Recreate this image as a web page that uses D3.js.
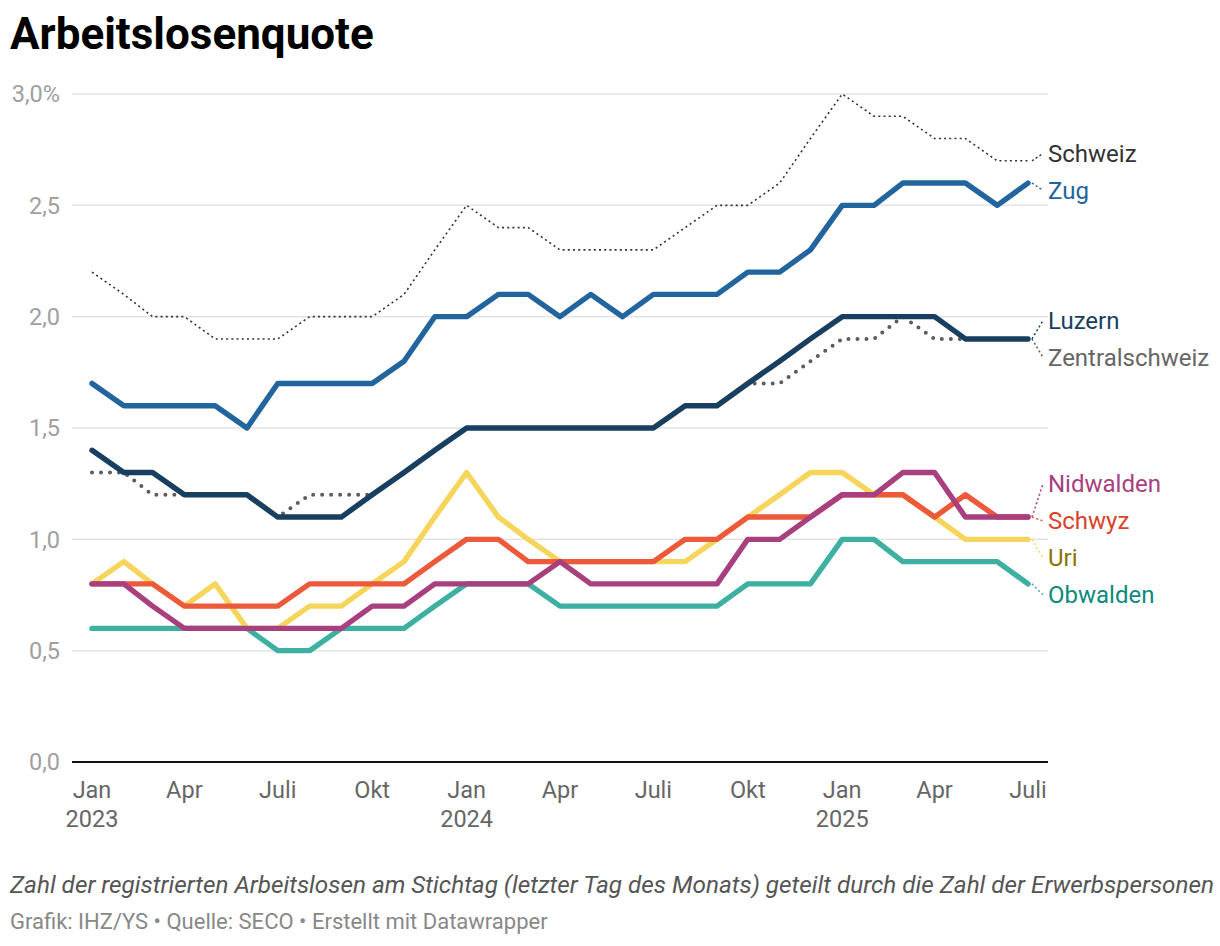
<!DOCTYPE html>
<html>
<head>
<meta charset="utf-8">
<script src="https://cdn.jsdelivr.net/npm/d3@7"></script>
<style>
  body { margin: 0; background: #fff; }
  svg { display: block; font-family: Roboto, "Noto Sans", sans-serif; }
</style>
</head>
<body>
<svg id="chart" width="1220" height="946"></svg>
<script>
// ---- Data ----
const startYear = 2023, startMonth = 0, monthCount = 31; // Jan 2023 .. Jul 2025
const schweiz = [2.2,2.1,2.0,2.0,1.9,1.9,1.9,2.0,2.0,2.0,2.1,2.3, 2.5,2.4,2.4,2.3,2.3,2.3,2.3,2.4,2.5,2.5,2.6,2.8, 3.0,2.9,2.9,2.8,2.8,2.7,2.7];
const zug = [1.7,1.6,1.6,1.6,1.6,1.5,1.7,1.7,1.7,1.7,1.8,2.0, 2.0,2.1,2.1,2.0,2.1,2.0,2.1,2.1,2.1,2.2,2.2,2.3, 2.5,2.5,2.6,2.6,2.6,2.5,2.6];
const luzern = [1.4,1.3,1.3,1.2,1.2,1.2,1.1,1.1,1.1,1.2,1.3,1.4, 1.5,1.5,1.5,1.5,1.5,1.5,1.5,1.6,1.6,1.7,1.8,1.9, 2.0,2.0,2.0,2.0,1.9,1.9,1.9];
const zentralschweiz = [1.3,1.3,1.2,1.2,1.2,1.2,1.1,1.2,1.2,1.2,1.3,1.4, 1.5,1.5,1.5,1.5,1.5,1.5,1.5,1.6,1.6,1.7,1.7,1.8, 1.9,1.9,2.0,1.9,1.9,1.9,1.9];
const nidwalden = [0.8,0.8,0.7,0.6,0.6,0.6,0.6,0.6,0.6,0.7,0.7,0.8, 0.8,0.8,0.8,0.9,0.8,0.8,0.8,0.8,0.8,1.0,1.0,1.1, 1.2,1.2,1.3,1.3,1.1,1.1,1.1];
const schwyz = [0.8,0.8,0.8,0.7,0.7,0.7,0.7,0.8,0.8,0.8,0.8,0.9, 1.0,1.0,0.9,0.9,0.9,0.9,0.9,1.0,1.0,1.1,1.1,1.1, 1.2,1.2,1.2,1.1,1.2,1.1,1.1];
const uri = [0.8,0.9,0.8,0.7,0.8,0.6,0.6,0.7,0.7,0.8,0.9,1.1, 1.3,1.1,1.0,0.9,0.9,0.9,0.9,0.9,1.0,1.1,1.2,1.3, 1.3,1.2,1.2,1.1,1.0,1.0,1.0];
const obwalden = [0.6,0.6,0.6,0.6,0.6,0.6,0.5,0.5,0.6,0.6,0.6,0.7, 0.8,0.8,0.8,0.7,0.7,0.7,0.7,0.7,0.7,0.8,0.8,0.8, 1.0,1.0,0.9,0.9,0.9,0.9,0.8];

const yTicks = [0, 0.5, 1.0, 1.5, 2.0, 2.5, 3.0];
const xTickMonths = [0,3,6,9,12,15,18,21,24,27,30];
const monthNames = ["Jan","Feb","Mär","Apr","Mai","Juni","Juli","Aug","Sep","Okt","Nov","Dez"];

// drawing order: bottom to top
const series = [
  {name:"Schweiz", values:schweiz, color:"#333333", label:"#333333", style:"thin"},
  {name:"Obwalden", values:obwalden, color:"#3eb0a2", label:"#0b8a7c", style:"thick"},
  {name:"Uri", values:uri, color:"#f5d55c", label:"#8a7300", style:"thick"},
  {name:"Schwyz", values:schwyz, color:"#ec5a3b", label:"#d9422b", style:"thick"},
  {name:"Nidwalden", values:nidwalden, color:"#a8407f", label:"#a8407f", style:"thick"},
  {name:"Zentralschweiz", values:zentralschweiz, color:"#5c5c5c", label:"#666666", style:"dots"},
  {name:"Luzern", values:luzern, color:"#183f5f", label:"#183f5f", style:"thick"},
  {name:"Zug", values:zug, color:"#22649e", label:"#22649e", style:"thick"}
];
// label stacking order (top to bottom for ties)
const labelOrder = ["Schweiz","Zug","Luzern","Zentralschweiz","Nidwalden","Schwyz","Uri","Obwalden"];

const dates = d3.range(monthCount).map(i => new Date(startYear, startMonth + i, 1));

// ---- Layout ----
const svg = d3.select("#chart");
const x = d3.scaleTime().domain([dates[0], dates[dates.length-1]]).range([92, 1028]);
const y = d3.scaleLinear().domain([0, 3]).range([762, 94]);
const gridX0 = 72, gridX1 = 1048;

// title
svg.append("text").attr("x", 10).attr("y", 49)
  .attr("font-size", 44).attr("font-weight", 700).attr("fill", "#000")
  .text("Arbeitslosenquote");

// grid
const gy = svg.append("g");
yTicks.forEach(t => {
  if (t === 0) return;
  gy.append("line").attr("x1", gridX0).attr("x2", gridX1)
    .attr("y1", y(t)).attr("y2", y(t))
    .attr("stroke", "#e3e3e3").attr("stroke-width", 1.5);
});
yTicks.forEach(t => {
  gy.append("text").attr("x", 60).attr("y", y(t)).attr("dy", "0.36em")
    .attr("text-anchor", "end").attr("font-size", 23.5).attr("fill", "#a0a0a0")
    .text(d3.format(".1f")(t).replace(".", ",") + (t === 3 ? "%" : ""));
});

// x axis labels
const gx = svg.append("g");
xTickMonths.forEach(i => {
  const d = dates[i];
  gx.append("text").attr("x", x(d)).attr("y", 798)
    .attr("text-anchor", "middle").attr("font-size", 23.5).attr("fill", "#666")
    .text(monthNames[d.getMonth()]);
  if (d.getMonth() === 0) {
    gx.append("text").attr("x", x(d)).attr("y", 827)
      .attr("text-anchor", "middle").attr("font-size", 23.5).attr("fill", "#666")
      .text(d.getFullYear());
  }
});

// lines
const line = d3.line().x((v, i) => x(dates[i])).y(v => y(v));
const gl = svg.append("g");
series.forEach(s => {
  const p = gl.append("path").attr("d", line(s.values)).attr("fill", "none")
    .attr("stroke", s.color).attr("stroke-linejoin", "round");
  if (s.style === "thin") {
    p.attr("stroke-width", 1.6).attr("stroke-dasharray", "2,3.2");
  } else if (s.style === "dots") {
    p.attr("stroke-width", 4).attr("stroke-dasharray", "0,9").attr("stroke-linecap", "round");
  } else {
    p.attr("stroke-width", 5.4).attr("stroke-linecap", "round");
  }
});

// baseline
svg.append("line").attr("x1", gridX0).attr("x2", gridX1)
  .attr("y1", y(0)).attr("y2", y(0)).attr("stroke", "#111").attr("stroke-width", 2);

// end labels with collision avoidance
const last = monthCount - 1;
const gap = 37;
let items = labelOrder.map(n => {
  const s = series.find(d => d.name === n);
  return {s, target: y(s.values[last])};
});
items.sort((a, b) => a.target - b.target || labelOrder.indexOf(a.s.name) - labelOrder.indexOf(b.s.name));
let clusters = items.map(it => ({items:[it], center: it.target}));
let changed = true;
while (changed) {
  changed = false;
  for (let i = 0; i < clusters.length - 1; i++) {
    const a = clusters[i], b = clusters[i+1];
    const aBottom = a.center + (a.items.length - 1) * gap / 2;
    const bTop = b.center - (b.items.length - 1) * gap / 2;
    if (bTop - aBottom < gap) {
      const merged = a.items.concat(b.items);
      const c = d3.mean(merged, d => d.target);
      clusters.splice(i, 2, {items: merged, center: c});
      changed = true;
      break;
    }
  }
}
clusters.forEach(c => {
  c.items.forEach((it, k) => { it.ly = c.center + (k - (c.items.length - 1) / 2) * gap; });
});
const glab = svg.append("g");
items.forEach(it => {
  const xv = x(dates[last]);
  glab.append("line").attr("x1", xv + 4).attr("y1", it.target)
    .attr("x2", 1043).attr("y2", it.ly)
    .attr("stroke", it.s.color).attr("stroke-width", 1.5).attr("stroke-dasharray", "2,2.5");
  glab.append("text").attr("x", 1048).attr("y", it.ly - 0.5).attr("dy", "0.36em")
    .attr("font-size", 24).attr("fill", it.s.label).text(it.s.name);
});

// footer
svg.append("text").attr("x", 10).attr("y", 893).attr("font-size", 24.3)
  .attr("font-style", "italic").attr("fill", "#555")
  .text("Zahl der registrierten Arbeitslosen am Stichtag (letzter Tag des Monats) geteilt durch die Zahl der Erwerbspersonen");
svg.append("text").attr("x", 10).attr("y", 929).attr("font-size", 22)
  .attr("fill", "#888")
  .text("Grafik: IHZ/YS • Quelle: SECO • Erstellt mit Datawrapper");
</script>
</body>
</html>
